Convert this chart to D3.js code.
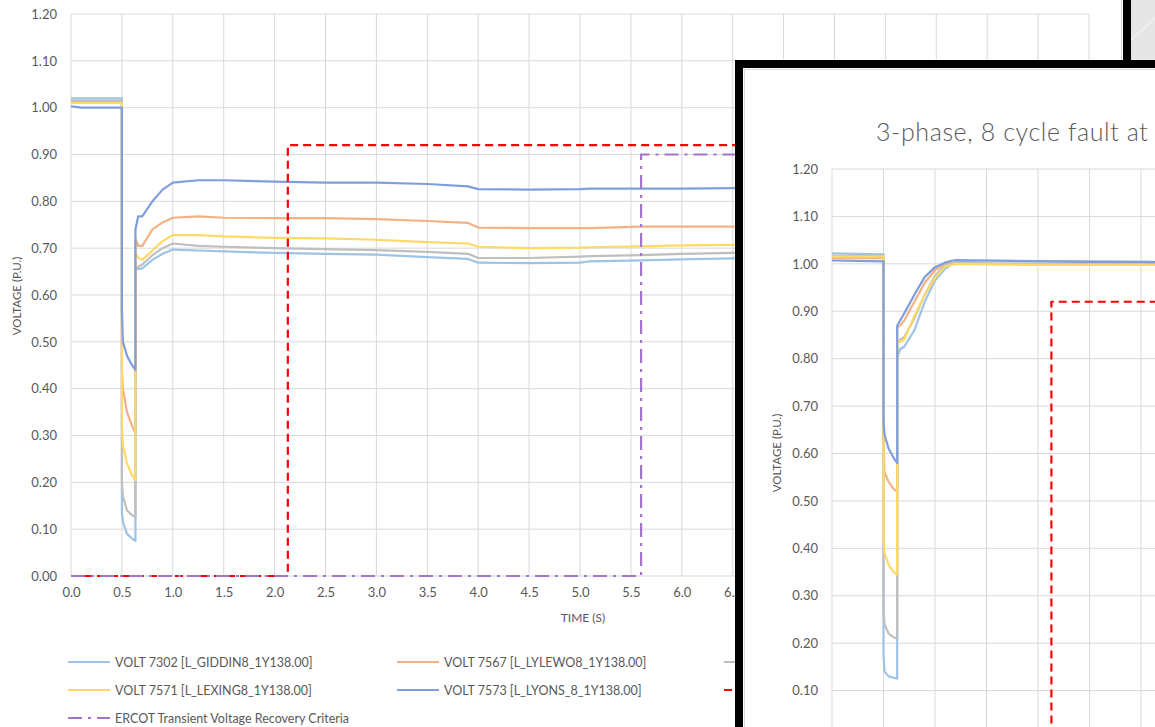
<!DOCTYPE html>
<html>
<head>
<meta charset="utf-8">
<script src="https://cdn.jsdelivr.net/npm/d3@7"></script>
<style>
  body { margin: 0; background: #fff; }
  svg { display: block; font-family: Lato, "Open Sans", sans-serif; }
</style>
</head>
<body>
<svg id="chart" width="1155" height="727"></svg>
<script>
// ---- data: main case (background chart) ----
const timeA = [0, 0.1, 0.5, 0.5, 0.51, 0.55, 0.6, 0.633, 0.633, 0.66, 0.7, 0.8, 0.9, 1.0, 1.25, 1.5,
  2.0, 2.5, 3.0, 3.5, 3.9, 4.0, 4.5, 5.0, 5.1, 5.6, 6.0, 6.5, 7.0, 8.0, 9.0, 10.0];
const giddinA = [1.020, 1.020, 1.020, 0.135, 0.115, 0.090, 0.080, 0.075, 0.660, 0.655, 0.657, 0.675, 0.688, 0.697, 0.695, 0.693,
  0.690, 0.688, 0.686, 0.681, 0.677, 0.669, 0.668, 0.669, 0.672, 0.674, 0.676, 0.678, 0.679, 0.680, 0.681, 0.682];
const lylewoA = [1.012, 1.012, 1.012, 0.440, 0.400, 0.350, 0.320, 0.305, 0.720, 0.705, 0.705, 0.740, 0.755, 0.765, 0.768, 0.765,
  0.764, 0.764, 0.762, 0.758, 0.754, 0.744, 0.743, 0.743, 0.743, 0.746, 0.746, 0.746, 0.747, 0.747, 0.747, 0.747];
const greyA = [1.015, 1.015, 1.015, 0.200, 0.170, 0.140, 0.130, 0.125, 0.655, 0.660, 0.665, 0.685, 0.700, 0.710, 0.705, 0.703,
  0.700, 0.698, 0.696, 0.692, 0.688, 0.679, 0.679, 0.682, 0.683, 0.685, 0.688, 0.690, 0.691, 0.692, 0.693, 0.694];
const lexingA = [1.010, 1.010, 1.010, 0.320, 0.280, 0.240, 0.215, 0.205, 0.690, 0.680, 0.675, 0.695, 0.715, 0.728, 0.728, 0.725,
  0.722, 0.721, 0.718, 0.713, 0.710, 0.703, 0.700, 0.701, 0.702, 0.704, 0.706, 0.707, 0.708, 0.709, 0.710, 0.710];
const lyonsA = [1.003, 1.000, 1.000, 0.570, 0.500, 0.470, 0.450, 0.440, 0.740, 0.768, 0.768, 0.800, 0.825, 0.840, 0.845, 0.845,
  0.842, 0.840, 0.840, 0.837, 0.832, 0.826, 0.825, 0.826, 0.827, 0.827, 0.827, 0.828, 0.828, 0.829, 0.829, 0.829];

// ---- data: inset case ----
const timeB = [0, 0.5, 0.5, 0.51, 0.55, 0.6, 0.633, 0.633, 0.66, 0.7, 0.8, 0.9, 1.0, 1.1, 1.2, 1.5,
  2.0, 2.5, 3.0, 3.5, 4.0, 5.0, 6.0, 7.0, 8.0, 9.0, 10.0];
const giddinB = [1.022, 1.020, 0.175, 0.140, 0.130, 0.127, 0.125, 0.800, 0.820, 0.825, 0.860, 0.920, 0.965, 0.990, 1.004, 1.007,
  1.006, 1.005, 1.004, 1.004, 1.003, 1.003, 1.003, 1.002, 1.002, 1.002, 1.002];
const lylewoB = [1.012, 1.012, 0.620, 0.560, 0.540, 0.525, 0.520, 0.865, 0.870, 0.880, 0.920, 0.960, 0.987, 1.000, 1.002, 1.000,
  0.999, 0.999, 0.999, 0.999, 0.999, 0.999, 0.999, 0.999, 0.999, 0.999, 0.999];
const greyB = [1.017, 1.017, 0.270, 0.240, 0.220, 0.212, 0.210, 0.835, 0.840, 0.845, 0.885, 0.935, 0.975, 0.998, 1.002, 1.001,
  1.000, 1.000, 1.000, 1.000, 1.000, 1.000, 1.000, 1.000, 1.000, 1.000, 1.000];
const lexingB = [1.015, 1.015, 0.420, 0.390, 0.365, 0.350, 0.345, 0.840, 0.835, 0.840, 0.890, 0.935, 0.970, 0.995, 1.000, 0.999,
  0.998, 0.998, 0.998, 0.998, 0.998, 0.998, 0.998, 0.998, 0.998, 0.998, 0.998];
const lyonsB = [1.007, 1.005, 0.665, 0.640, 0.610, 0.590, 0.580, 0.870, 0.880, 0.895, 0.935, 0.972, 0.993, 1.003, 1.008, 1.007,
  1.005, 1.004, 1.004, 1.003, 1.003, 1.003, 1.003, 1.003, 1.003, 1.003, 1.003];

// ---- recovery criteria ----
const nercTime = [0, 2.13, 2.13, 10];
const nercVolt = [0, 0, 0.92, 0.92];
const ercotTime = [0, 5.6, 5.6, 10];
const ercotVolt = [0, 0, 0.90, 0.90];

const seriesNames = ['VOLT 7302 [L_GIDDIN8_1Y138.00]', 'VOLT 7567 [L_LYLEWO8_1Y138.00]', '',
  'VOLT 7571 [L_LEXING8_1Y138.00]', 'VOLT 7573 [L_LYONS_8_1Y138.00]', '', 'ERCOT Transient Voltage Recovery Criteria'];
const seriesColors = ['#9DC3E6', '#F4B183', '#BFBFBF', '#FFD966', '#7F9FDC', '#FF0000', '#A274CC'];
const seriesDash = [null, null, null, null, null, '8,5', '14,6,3,6'];

const xTicks = d3.range(0, 21).map(i => i / 2);
const yTicks = d3.range(0, 13).map(i => i / 10);

const W = 1155, H = 727;
const svg = d3.select('#chart');
svg.append('rect').attr('width', W).attr('height', H).attr('fill', '#fff');

function zipSeries(t, v) { return t.map((d, i) => [d, v[i]]); }

function drawPlot(g, x, y, seriesSets, showX, yLabelTicks) {
  // gridlines
  g.append('g').selectAll('line').data(xTicks).enter().append('line')
    .attr('x1', d => x(d)).attr('x2', d => x(d))
    .attr('y1', y(0)).attr('y2', y(1.2))
    .attr('stroke', '#D9D9D9').attr('stroke-width', 1);
  g.append('g').selectAll('line').data(yTicks).enter().append('line')
    .attr('x1', x(0)).attr('x2', x(10))
    .attr('y1', d => y(d)).attr('y2', d => y(d))
    .attr('stroke', '#D9D9D9').attr('stroke-width', 1);

  const ya = g.append('g').attr('transform', `translate(${x(0)},0)`)
    .call(d3.axisLeft(y).tickValues(yLabelTicks).tickFormat(d3.format('.2f')).tickSize(0).tickPadding(14));
  ya.select('.domain').remove();
  ya.selectAll('text').attr('fill', '#595959').style('font-size', '13px').style('font-family', 'Lato, sans-serif');

  if (showX) {
    const xa = g.append('g').attr('transform', `translate(0,${y(0)})`)
      .call(d3.axisBottom(x).tickValues(xTicks).tickFormat(d3.format('.1f')).tickSize(0).tickPadding(12));
    xa.select('.domain').remove();
    xa.selectAll('text').attr('fill', '#595959').style('font-size', '13px').style('font-family', 'Lato, sans-serif');
  }

  const line = d3.line().x(d => x(d[0])).y(d => y(d[1]));
  seriesSets.forEach((pts, i) => {
    g.append('path').datum(pts)
      .attr('d', line)
      .attr('fill', 'none')
      .attr('stroke', seriesColors[i])
      .attr('stroke-width', 2.2)
      .attr('stroke-linejoin', 'round')
      .attr('stroke-dasharray', seriesDash[i]);
  });
}

// ---------- background chart ----------
const x1 = d3.scaleLinear().domain([0, 10]).range([71, 1089]);
const y1 = d3.scaleLinear().domain([0, 1.2]).range([576, 14]);
const main = svg.append('g');
drawPlot(main, x1, y1, [
  zipSeries(timeA, giddinA), zipSeries(timeA, lylewoA), zipSeries(timeA, greyA),
  zipSeries(timeA, lexingA), zipSeries(timeA, lyonsA),
  zipSeries(nercTime, nercVolt), zipSeries(ercotTime, ercotVolt)
], true, yTicks);

main.append('text').attr('transform', 'translate(21,296) rotate(-90)')
  .attr('text-anchor', 'middle').attr('fill', '#595959').style('font-size', '11.5px')
  .text('VOLTAGE (P.U.)');
main.append('text').attr('x', 583).attr('y', 622)
  .attr('text-anchor', 'middle').attr('fill', '#595959').style('font-size', '12px')
  .text('TIME (S)');

// legend: 3 columns
const legendCols = [68, 397, 724];
const legendRows = [662, 690, 718];
const legend = main.append('g');
seriesNames.forEach((name, i) => {
  const lx = legendCols[i % 3], ly = legendRows[Math.floor(i / 3)];
  legend.append('line').attr('x1', lx).attr('x2', lx + 42).attr('y1', ly).attr('y2', ly)
    .attr('stroke', seriesColors[i]).attr('stroke-width', 2.2)
    .attr('stroke-dasharray', seriesDash[i]);
  if (name) {
    legend.append('text').attr('x', lx + 47).attr('y', ly + 4.5)
      .attr('fill', '#595959').style('font-size', '12.5px').text(name);
  }
});

// frame at the top right of background chart
svg.append('line').attr('x1', 1121.5).attr('x2', 1121.5).attr('y1', 0).attr('y2', 60)
  .attr('stroke', '#D9D9D9');
svg.append('rect').attr('x', 1131).attr('y', 0).attr('width', W - 1131).attr('height', 60).attr('fill', '#E6E6E6');
svg.append('line').attr('x1', 1131).attr('y1', 40).attr('x2', 1155).attr('y2', 18)
  .attr('stroke', '#F2F2F2').attr('stroke-width', 1.5);
svg.append('rect').attr('x', 1123).attr('y', 0).attr('width', 8).attr('height', 68).attr('fill', '#000');

// ---------- inset chart ----------
const inset = svg.append('g');
inset.append('rect').attr('x', 735).attr('y', 60).attr('width', W - 735).attr('height', H - 60).attr('fill', '#000');
inset.append('rect').attr('x', 743).attr('y', 68).attr('width', W - 743).attr('height', H - 68).attr('fill', '#fff');
inset.append('rect').attr('x', 744.5).attr('y', 69.5).attr('width', W).attr('height', H)
  .attr('fill', 'none').attr('stroke', '#D9D9D9');

svg.append('clipPath').attr('id', 'insetClip')
  .append('rect').attr('x', 743).attr('y', 68).attr('width', W - 743).attr('height', H - 68);
const insetBody = inset.append('g').attr('clip-path', 'url(#insetClip)');

// inset x axis lies below the window, so its 0.00 label is not drawn
const x2 = d3.scaleLinear().domain([0, 10]).range([832, 1862]);
const y2 = d3.scaleLinear().domain([0, 1.2]).range([738, 169]);
drawPlot(insetBody, x2, y2, [
  zipSeries(timeB, giddinB), zipSeries(timeB, lylewoB), zipSeries(timeB, greyB),
  zipSeries(timeB, lexingB), zipSeries(timeB, lyonsB),
  zipSeries(nercTime, nercVolt), zipSeries(ercotTime, ercotVolt)
], false, yTicks.filter(d => d > 0));

insetBody.append('text').attr('x', 876).attr('y', 141)
  .attr('fill', '#595959').style('font-size', '25px').style('font-weight', 300)
  .style('letter-spacing', '0.6px')
  .text('3-phase, 8 cycle fault at');
insetBody.append('text').attr('transform', 'translate(781,453) rotate(-90)')
  .attr('text-anchor', 'middle').attr('fill', '#595959').style('font-size', '11.5px')
  .text('VOLTAGE (P.U.)');
</script>
</body>
</html>
